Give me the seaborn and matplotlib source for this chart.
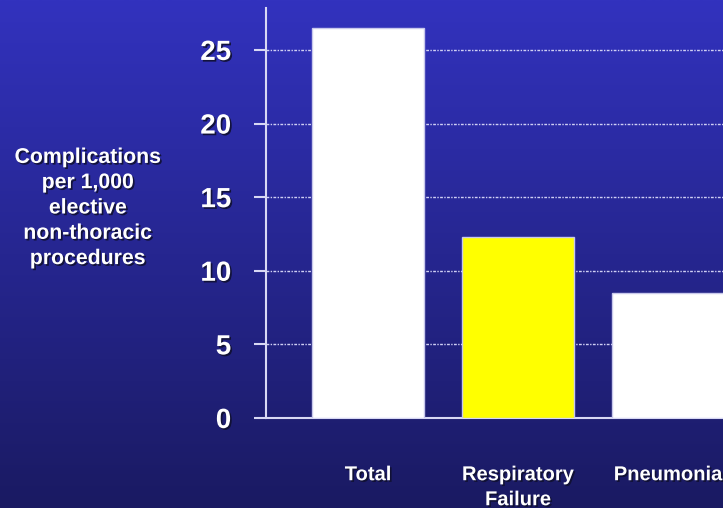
import numpy as np
import pandas as pd
import matplotlib
matplotlib.use("Agg")
import matplotlib.pyplot as plt
import matplotlib.patheffects as pe
import seaborn as sns

# Data
categories = ["Total", "Respiratory\nFailure", "Pneumonia"]
values = [26.5, 12.3, 8.5]
bar_colors = ["#ffffff", "#ffff00", "#ffffff"]
yticks = [0, 5, 10, 15, 20, 25]

df = pd.DataFrame({"cat": categories, "val": values})

sns.set_style("white")
plt.rcParams["font.family"] = ["Liberation Sans", "DejaVu Sans"]
plt.rcParams["font.weight"] = "bold"

fig = plt.figure(figsize=(7.23, 5.08), dpi=100)

# gradient background
bg = fig.add_axes([0, 0, 1, 1], zorder=0)
top = np.array([50, 50, 190]) / 255
bot = np.array([26, 26, 98]) / 255
t = np.linspace(0, 1, 256)[:, None]
grad = top[None, :] * (1 - t) + bot[None, :] * t
bg.imshow(grad[:, None, :], aspect="auto", extent=[0, 1, 0, 1])
bg.axis("off")

ax = fig.add_axes([266 / 723, 90 / 508, 457 / 723, 410 / 508], zorder=1)
ax.patch.set_alpha(0)

sns.barplot(data=df, x="cat", y="val", hue="cat", palette=bar_colors,
            legend=False, width=0.75, edgecolor="#c8c8ec", linewidth=1,
            saturation=1, ax=ax, zorder=3)

ax.set_xlim(-0.68, 2.367)
ax.set_ylim(0, 27.85)
ax.set_yticks(yticks)
ax.yaxis.grid(True, color="#d0d0f4", linestyle=(0, (2, 1, 1, 1)), linewidth=1)
ax.set_axisbelow(True)
for s in ["top", "right"]:
    ax.spines[s].set_visible(False)
for s in ["left", "bottom"]:
    ax.spines[s].set_color("#d8d8f4")
    ax.spines[s].set_linewidth(1.5)
ax.tick_params(axis="y", left=True, length=9, width=1.5, color="#d8d8f4", pad=16,
               labelsize=20, labelcolor="white")
ax.tick_params(axis="x", bottom=False, length=0, pad=34, labelsize=14.5,
               labelcolor="white")
ax.set_xlabel("")
ax.set_ylabel("")

shadow = [pe.withSimplePatchShadow(offset=(1.2, -1.2), shadow_rgbFace="#101030", alpha=0.9)]
for lab in ax.get_yticklabels() + ax.get_xticklabels():
    lab.set_fontweight("bold")
    lab.set_path_effects(shadow)
for lab in ax.get_xticklabels():
    lab.set_verticalalignment("top")
    lab.set_linespacing(1.4)

fig.text(88 / 723, 1 - 208 / 508,
         "Complications\nper 1,000\nelective\nnon-thoracic\nprocedures",
         ha="center", va="center", multialignment="center", color="white",
         fontsize=15.3, fontweight="bold", linespacing=1.42, path_effects=shadow)

fig.savefig("out.png", dpi=100)
